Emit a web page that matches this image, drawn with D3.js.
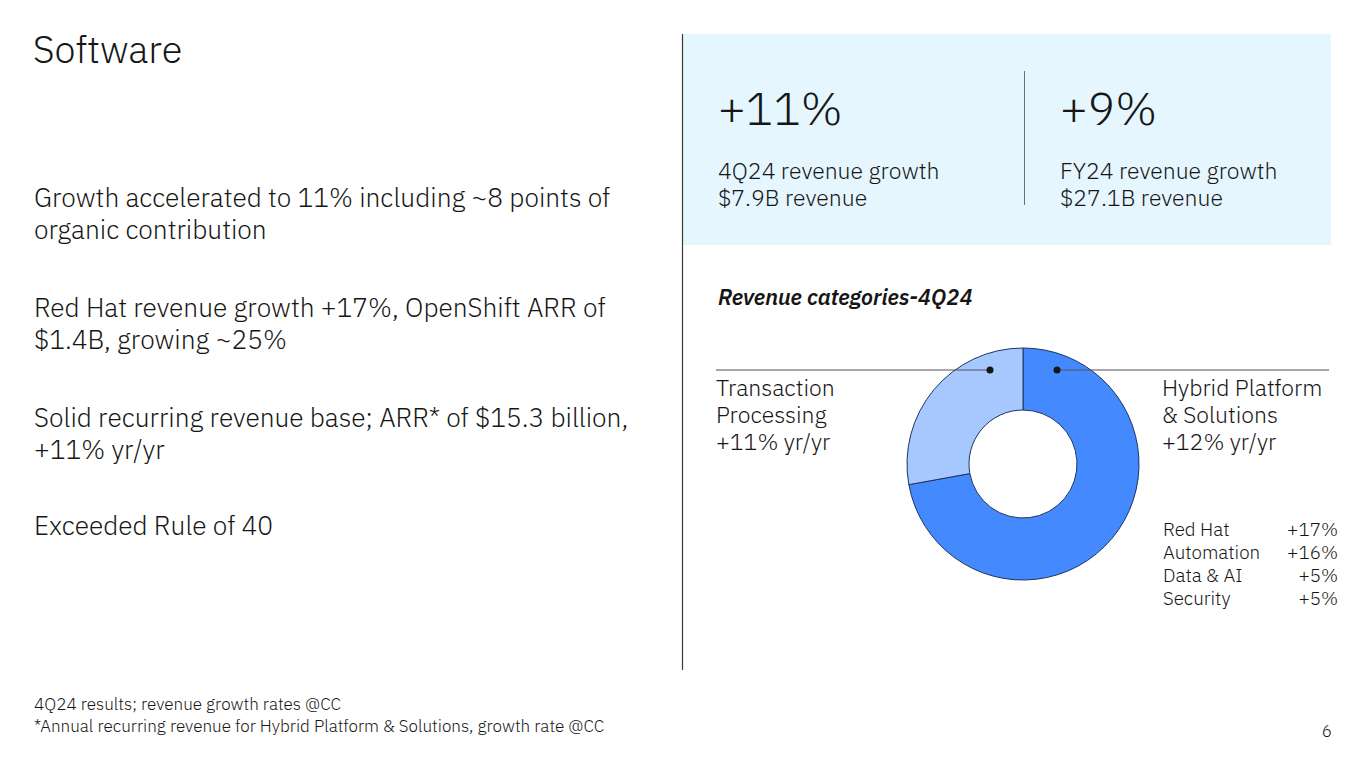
<!DOCTYPE html>
<html><head><meta charset="utf-8">
<script src="https://cdn.jsdelivr.net/npm/d3@7"></script>
<style>
html,body{margin:0;padding:0;background:#fff;}
svg{display:block;font-family:"IBM Plex Sans","Noto Sans",sans-serif;}
</style></head>
<body>
<svg id="c" width="1365" height="768"></svg>
<script>
const categories = ["Hybrid Platform & Solutions", "Transaction Processing"];
const revenueB = [5.7, 2.2];
const growthLabels = ["+12% yr/yr", "+11% yr/yr"];
const hpsItems = ["Red Hat", "Automation", "Data & AI", "Security"];
const hpsGrowth = ["+17%", "+16%", "+5%", "+5%"];
const bullets = [
  ["Growth accelerated to 11% including ~8 points of", "organic contribution"],
  ["Red Hat revenue growth +17%, OpenShift ARR of", "$1.4B, growing ~25%"],
  ["Solid recurring revenue base; ARR* of $15.3 billion,", "+11% yr/yr"],
  ["Exceeded Rule of 40"]
];
const kpis = [
  {big: "+11%", l1: "4Q24 revenue growth", l2: "$7.9B revenue"},
  {big: "+9%", l1: "FY24 revenue growth", l2: "$27.1B revenue"}
];
const footnotes = ["4Q24 results; revenue growth rates @CC",
  "*Annual recurring revenue for Hybrid Platform & Solutions, growth rate @CC"];

const svg = d3.select("#c");
const ink = "#161616";

// Title
svg.append("text").attr("x", 33).attr("y", 63).attr("font-size", 38).attr("font-weight", 300)
  .attr("fill", ink).text("Software");

// Bullets
const bulletY = [207, 317, 427, 535];
bullets.forEach((lines, i) => {
  const t = svg.append("text").attr("x", 34).attr("y", bulletY[i]).attr("font-size", 26.3)
    .attr("font-weight", 300).attr("fill", ink);
  lines.forEach((ln, j) => t.append("tspan").attr("x", 34).attr("dy", j === 0 ? 0 : 32).text(ln));
});

// Panel
svg.append("rect").attr("x", 682).attr("y", 34).attr("width", 649).attr("height", 211).attr("fill", "#e5f6ff");
svg.append("line").attr("x1", 682.5).attr("x2", 682.5).attr("y1", 34).attr("y2", 670)
  .attr("stroke", "#393939").attr("stroke-width", 1.2);
svg.append("line").attr("x1", 1024.5).attr("x2", 1024.5).attr("y1", 71).attr("y2", 205)
  .attr("stroke", "#6f6f6f").attr("stroke-width", 1);

const kx = d3.scalePoint().domain(d3.range(kpis.length)).range([718, 1060]);
kpis.forEach((k, i) => {
  const g = svg.append("g").attr("transform", `translate(${kx(i)},0)`);
  g.append("text").attr("y", 125).attr("font-size", 46).attr("font-weight", 300).attr("fill", ink).text(k.big);
  g.append("text").attr("y", 179).attr("font-size", 23).attr("font-weight", 300).attr("fill", ink).text(k.l1);
  g.append("text").attr("y", 206).attr("font-size", 23).attr("font-weight", 300).attr("fill", ink).text(k.l2);
});

svg.append("text").attr("x", 718).attr("y", 305).attr("font-size", 22).attr("font-weight", 600)
  .attr("font-style", "italic").attr("fill", ink).text("Revenue categories-4Q24");

// Donut
const cx = 1023, cy = 464;
const pie = d3.pie().sort(null).value(d => d)(revenueB);
const arc = d3.arc().innerRadius(54).outerRadius(116);
const colors = d3.scaleOrdinal().domain(categories).range(["#4589ff", "#a6c8ff"]);
const dg = svg.append("g").attr("transform", `translate(${cx},${cy})`);
dg.selectAll("path").data(pie).join("path")
  .attr("d", arc).attr("fill", (d, i) => colors(categories[i]))
  .attr("stroke", "#1c3560").attr("stroke-width", 1);

// Leader lines
const ly = 370;
svg.append("line").attr("x1", 716).attr("x2", 990).attr("y1", ly).attr("y2", ly).attr("stroke", "#525252").attr("stroke-width", 1.2);
svg.append("line").attr("x1", 1057).attr("x2", 1329).attr("y1", ly).attr("y2", ly).attr("stroke", "#525252").attr("stroke-width", 1.2);
svg.append("circle").attr("cx", 990).attr("cy", ly).attr("r", 3.5).attr("fill", ink);
svg.append("circle").attr("cx", 1057).attr("cy", ly).attr("r", 3.5).attr("fill", ink);

const leftLbl = ["Transaction", "Processing", growthLabels[1]];
const rightLbl = ["Hybrid Platform", "& Solutions", growthLabels[0]];
[[716, leftLbl], [1162, rightLbl]].forEach(([x, lines]) => {
  const t = svg.append("text").attr("x", x).attr("y", 396).attr("font-size", 23).attr("font-weight", 300).attr("fill", ink);
  lines.forEach((ln, j) => t.append("tspan").attr("x", x).attr("dy", j === 0 ? 0 : 27).text(ln));
});

const ry = d3.scalePoint().domain(hpsItems).range([536, 605]);
hpsItems.forEach((name, i) => {
  svg.append("text").attr("x", 1163).attr("y", ry(name)).attr("font-size", 18.8).attr("font-weight", 300).attr("fill", ink).text(name);
  svg.append("text").attr("x", 1338).attr("y", ry(name)).attr("font-size", 18.8).attr("font-weight", 300)
    .attr("text-anchor", "end").attr("fill", ink).text(hpsGrowth[i]);
});

// Footnotes
footnotes.forEach((f, i) => {
  svg.append("text").attr("x", 34).attr("y", 710 + i * 22).attr("font-size", 17.1).attr("font-weight", 300).attr("fill", ink).text(f);
});
svg.append("text").attr("x", 1332).attr("y", 737).attr("font-size", 17).attr("font-weight", 300)
  .attr("text-anchor", "end").attr("fill", ink).text("6");
</script>
</body></html>
